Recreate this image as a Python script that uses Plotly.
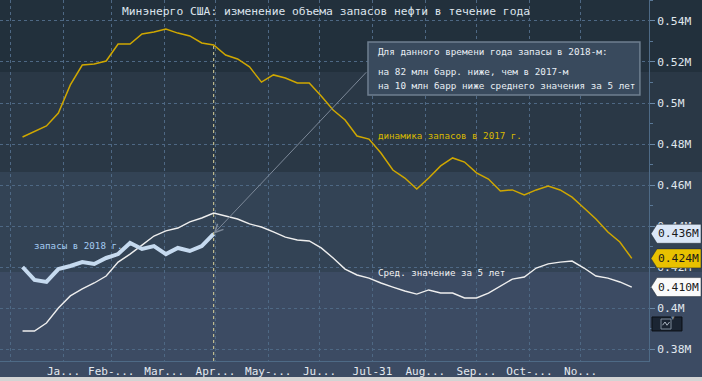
import pandas as pd
import plotly.graph_objects as go

# ---------------- data (values in millions of barrels, shown as "M") ----------------
week_start = "2017-01-07"
n_weeks = 52

stocks_2017 = [0.4834, 0.4863, 0.4888, 0.4951, 0.5088, 0.5185, 0.5190, 0.5205, 0.5288, 0.5288,
               0.5337, 0.5346, 0.5361, 0.5341, 0.5327, 0.5293, 0.5283, 0.5234, 0.5215, 0.5176,
               0.5102, 0.5137, 0.5122, 0.5098, 0.5098, 0.5034, 0.4966, 0.4917, 0.4839, 0.4824,
               0.4756, 0.4673, 0.4634, 0.4580, 0.4634, 0.4693, 0.4732, 0.4712, 0.4659, 0.4629,
               0.4571, 0.4576, 0.4551, 0.4576, 0.4595, 0.4576, 0.4541, 0.4488, 0.4434, 0.4371,
               0.4322, 0.4242]

avg_5y = [0.3888, 0.3888, 0.3927, 0.4000, 0.4059, 0.4093, 0.4122, 0.4156, 0.4224, 0.4263,
          0.4307, 0.4351, 0.4376, 0.4390, 0.4420, 0.4439, 0.4463, 0.4449, 0.4434, 0.4410,
          0.4395, 0.4371, 0.4346, 0.4332, 0.4327, 0.4293, 0.4244, 0.4190, 0.4161, 0.4146,
          0.4122, 0.4102, 0.4083, 0.4068, 0.4088, 0.4073, 0.4073, 0.4049, 0.4049, 0.4073,
          0.4107, 0.4141, 0.4151, 0.4195, 0.4215, 0.4224, 0.4229, 0.4195, 0.4156, 0.4146,
          0.4127, 0.4102]

stocks_2018 = [0.4200, 0.4137, 0.4127, 0.4190, 0.4205, 0.4224, 0.4215, 0.4244, 0.4263, 0.4317,
               0.4288, 0.4302, 0.4263, 0.4293, 0.4278, 0.4302, 0.4362]

tick_dates = ["2016-12-31", "2017-01-31", "2017-02-28", "2017-03-31", "2017-04-30", "2017-05-31",
              "2017-06-30", "2017-07-31", "2017-08-31", "2017-09-30", "2017-10-31", "2017-11-30"]
tick_text = ["", "Ja...", "Feb-...", "Mar...", "Apr...", "May-...", "Ju...", "Jul-31",
             "Aug...", "Sep...", "Oct-...", "No..."]

y_ticks = [0.38, 0.40, 0.42, 0.44, 0.46, 0.48, 0.50, 0.52, 0.54]
y_tick_text = ["0.38M", "0.4M", "0.42M", "0.44M", "0.46M", "0.48M", "0.5M", "0.52M", "0.54M"]

title_text = "Минэнерго США: изменение объема запасов нефти в течение года"
box_lines = ["Для данного времени года запасы в 2018-м:",
             "на 82 млн барр. ниже, чем в 2017-м",
             "на 10 млн барр ниже среднего значения за 5 лет"]
label_2018 = "запасы в 2018 г."
label_2017 = "динамика запасов в 2017 г."
label_avg = "Сред. значение за 5 лет"

X_RANGE = ["2016-12-24 19:00", "2018-01-09 02:00"]
Y_RANGE = [0.37415, 0.55024]

dates = pd.date_range(week_start, periods=n_weeks, freq="7D")
dates_2018 = dates[:len(stocks_2018)]

FONT = "DejaVu Sans Mono"
YELLOW = "#cfa700"
WHITE = "#eeeeee"
BLUE18 = "#c6daef"
GRID = "#4e6884"

fig = go.Figure()

fig.add_trace(go.Scatter(x=dates, y=avg_5y, mode="lines",
                         line=dict(color=WHITE, width=1.4), hoverinfo="skip"))
fig.add_trace(go.Scatter(x=dates, y=stocks_2017, mode="lines",
                         line=dict(color=YELLOW, width=1.5), hoverinfo="skip"))
fig.add_trace(go.Scatter(x=dates_2018, y=stocks_2018, mode="lines",
                         line=dict(color=BLUE18, width=4), hoverinfo="skip"))

shapes = []
# background bands (full width)
bands = [(0.8006, 1.0, "#22303c"), (0.5235, 0.8006, "#2a3846"), (0.2465, 0.5235, "#334355")]
for y0, y1, c in bands:
    shapes.append(dict(type="rect", xref="paper", yref="paper", x0=0, x1=1.09, y0=y0, y1=y1,
                       fillcolor=c, line=dict(width=0), layer="below"))
# bottom light strip
shapes.append(dict(type="rect", xref="paper", yref="paper", x0=-0.01, x1=1.1, y0=-0.07, y1=-0.0443,
                   fillcolor="#d4d4d4", line=dict(width=0), layer="below"))
# current-date dashed line
shapes.append(dict(type="line", xref="x", yref="y", x0=dates_2018[-1], x1=dates_2018[-1],
                   y0=Y_RANGE[0], y1=stocks_2017[len(stocks_2018) - 1],
                   line=dict(color="#d9d29a", width=1, dash="dot"), layer="above"))
# annotation box
shapes.append(dict(type="rect", xref="paper", yref="paper", x0=0.567, x1=0.986, y0=0.737, y1=0.8837,
                   fillcolor="#394a5d", line=dict(color="#6f7f90", width=1.5), layer="above"))

# value tags on right axis
tags = [(stocks_2018[-1], "#dbe7f7", "#1a1a1a"),
        (stocks_2017[-1], "#e8c100", "#1a1a1a"),
        (avg_5y[-1], "#fafafa", "#1a1a1a")]
annotations = []
for val, bg, fg in tags:
    shapes.append(dict(type="path", xref="paper", yref="y", xsizemode="pixel", ysizemode="pixel",
                       xanchor=1.0, yanchor=val,
                       path="M 2,0 L 8,-9.5 L 52,-9.5 L 52,9.5 L 8,9.5 Z",
                       fillcolor=bg, line=dict(color="#202830", width=0.5), layer="above"))
    annotations.append(dict(xref="paper", yref="y", x=1.0, y=val, xanchor="left", yanchor="middle",
                            xshift=7, text=f"{val:.3f}M", showarrow=False,
                            font=dict(family=FONT, size=11.3, color=fg)))

# small widget box bottom-right (decoration)
shapes.append(dict(type="rect", xref="paper", yref="paper", x0=1.0046, x1=1.0508, y0=0.0832, y1=0.1219,
                   fillcolor="#1b2533", line=dict(color="#0b0f14", width=1), layer="above"))
shapes.append(dict(type="rect", xref="paper", yref="paper", x0=1.0185, x1=1.0339, y0=0.0886, y1=0.1163,
                   fillcolor="#1b2533", line=dict(color="#7d8a99", width=1), layer="above"))
shapes.append(dict(type="path", xref="paper", yref="paper",
                   path="M 1.0208,0.0990 L 1.0247,0.1080 L 1.0278,0.0990 L 1.0316,0.1080",
                   line=dict(color="#aab4c0", width=1), layer="above"))
annotations.append(dict(xref="paper", yref="paper", x=1.0430, y=0.1025, text="▾", showarrow=False,
                        font=dict(family="DejaVu Sans", size=7, color="#7d8a99")))

# title
annotations.append(dict(xref="paper", yref="paper", x=0.1849, y=0.9668, xanchor="left", yanchor="middle",
                        text=title_text, showarrow=False, font=dict(family=FONT, size=11.3, color="#dde4ec")))
# box text
for txt, yp in zip(box_lines, [0.856, 0.8033, 0.762]):
    annotations.append(dict(xref="paper", yref="paper", x=0.5794, y=yp, xanchor="left", yanchor="middle",
                            text=txt, showarrow=False, font=dict(family=FONT, size=9.3, color="#e8eef4")))
# connector line from 2018 endpoint to box
annotations.append(dict(x=dates_2018[-1], y=stocks_2018[-1], xref="x", yref="y", text="",
                        showarrow=True, ax=154, ay=-163, arrowhead=5, arrowsize=1.6, arrowwidth=1,
                        arrowcolor="#7c8898", standoff=0))
# series labels
annotations.append(dict(xref="paper", yref="paper", x=0.0493, y=0.3213, xanchor="left", yanchor="middle",
                        text=label_2018, showarrow=False, font=dict(family=FONT, size=9.2, color="#a4ccf2")))
annotations.append(dict(xref="paper", yref="paper", x=0.5794, y=0.626, xanchor="left", yanchor="middle",
                        text=label_2017, showarrow=False, font=dict(family=FONT, size=9.2, color="#d9b800")))
annotations.append(dict(xref="paper", yref="paper", x=0.5794, y=0.2465, xanchor="left", yanchor="middle",
                        text=label_avg, showarrow=False, font=dict(family=FONT, size=9.2, color="#f0f0f0")))

fig.update_layout(
    width=702, height=381, autosize=False,
    margin=dict(l=0, r=53, t=0, b=20, pad=0),
    paper_bgcolor="#3c4b63", plot_bgcolor="rgba(0,0,0,0)",
    showlegend=False, shapes=shapes, annotations=annotations,
    xaxis=dict(type="date", range=X_RANGE, tickvals=tick_dates, ticktext=tick_text,
               showgrid=True, gridcolor=GRID, griddash="3px,3px", gridwidth=1,
               showline=True, linecolor="#4e6a86", linewidth=1, ticks="", zeroline=False,
               tickfont=dict(family=FONT, size=11, color="#e4e9ef"), fixedrange=True),
    yaxis=dict(side="right", range=Y_RANGE, tickvals=y_ticks, ticktext=y_tick_text,
               showgrid=True, gridcolor=GRID, griddash="3px,3px", gridwidth=1,
               showline=True, linecolor="#4e6a86", linewidth=1, zeroline=False,
               ticks="outside", ticklen=5, tickcolor="#6a88a6",
               minor=dict(ticks="outside", ticklen=3, tickcolor="#5a7896", dtick=0.01, showgrid=False),
               tickfont=dict(family=FONT, size=11.3, color="#e0e7ee"), fixedrange=True),
)

fig.write_html("out.html")
